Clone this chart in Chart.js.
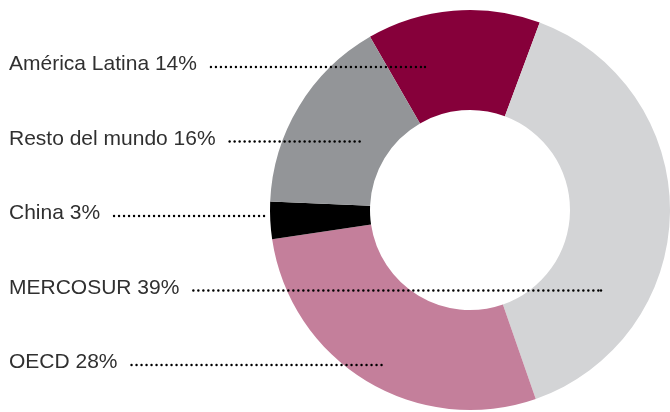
<!DOCTYPE html>
<html>
<head>
<meta charset="utf-8">
<script src="https://cdn.jsdelivr.net/npm/chart.js@4/dist/chart.umd.min.js"></script>
<style>
html,body{margin:0;padding:0;background:#fff;}
#wrap{width:670px;height:412px;position:relative;}
</style>
</head>
<body>
<div id="wrap"><canvas id="c" width="670" height="412"></canvas></div>
<script>
// Data (dataset order, clockwise from the crimson slice)
const categories = ['América Latina', 'MERCOSUR', 'OECD', 'China', 'Resto del mundo'];
const shares = [14, 39, 28, 3, 16];
const sliceColors = ['#86003a', '#d3d4d6', '#c47f9b', '#000000', '#939598'];
// Order in which labels are listed on the left (indexes into categories)
const labelOrder = [0, 4, 3, 1, 2];
// Leader line reach, as a fraction of outer radius from the centre (negative = left)
const leaderReach = [-0.225, 0.655, -0.435, -1.02, -0.545];

const labelPlugin = {
  id: 'leftLabels',
  afterDraw(chart) {
    const ctx = chart.ctx;
    const meta = chart.getDatasetMeta(0);
    const arc0 = meta.data[0];
    const cx = arc0.x, R = arc0.outerRadius;
    const firstBaseline = 70, step = 74.5, textX = 9, gap = 14, dotStep = 5, dotR = 1.2;
    ctx.save();
    ctx.font = '21px "Liberation Sans", Arial, sans-serif';
    ctx.textBaseline = 'alphabetic';
    ctx.textAlign = 'left';
    labelOrder.forEach((idx, row) => {
      const text = categories[idx] + ' ' + shares[idx] + '%';
      const y = firstBaseline + row * step;
      ctx.fillStyle = '#303030';
      ctx.fillText(text, textX, y);
      const w = ctx.measureText(text).width;
      const x0 = textX + w + gap;
      const x1 = cx + leaderReach[idx] * R;
      ctx.fillStyle = '#000';
      let x = x0;
      for (; x <= x1; x += dotStep) {
        ctx.beginPath();
        ctx.arc(x, y - 3, dotR, 0, Math.PI * 2);
        ctx.fill();
      }
      if (x1 - (x - dotStep) > 2) {
        ctx.beginPath();
        ctx.arc(x1, y - 3, dotR, 0, Math.PI * 2);
        ctx.fill();
      }
    });
    ctx.restore();
  }
};

new Chart(document.getElementById('c'), {
  type: 'doughnut',
  data: {
    labels: categories,
    datasets: [{
      data: shares,
      backgroundColor: sliceColors,
      borderWidth: 0,
      hoverOffset: 0,
      offset: 0
    }]
  },
  options: {
    responsive: false,
    animation: false,
    events: [],
    rotation: -30,
    cutout: '50%',
    layout: { padding: { left: 270, top: 10, right: 0, bottom: 2 } },
    plugins: { legend: { display: false }, tooltip: { enabled: false } }
  },
  plugins: [labelPlugin]
});
</script>
</body>
</html>
